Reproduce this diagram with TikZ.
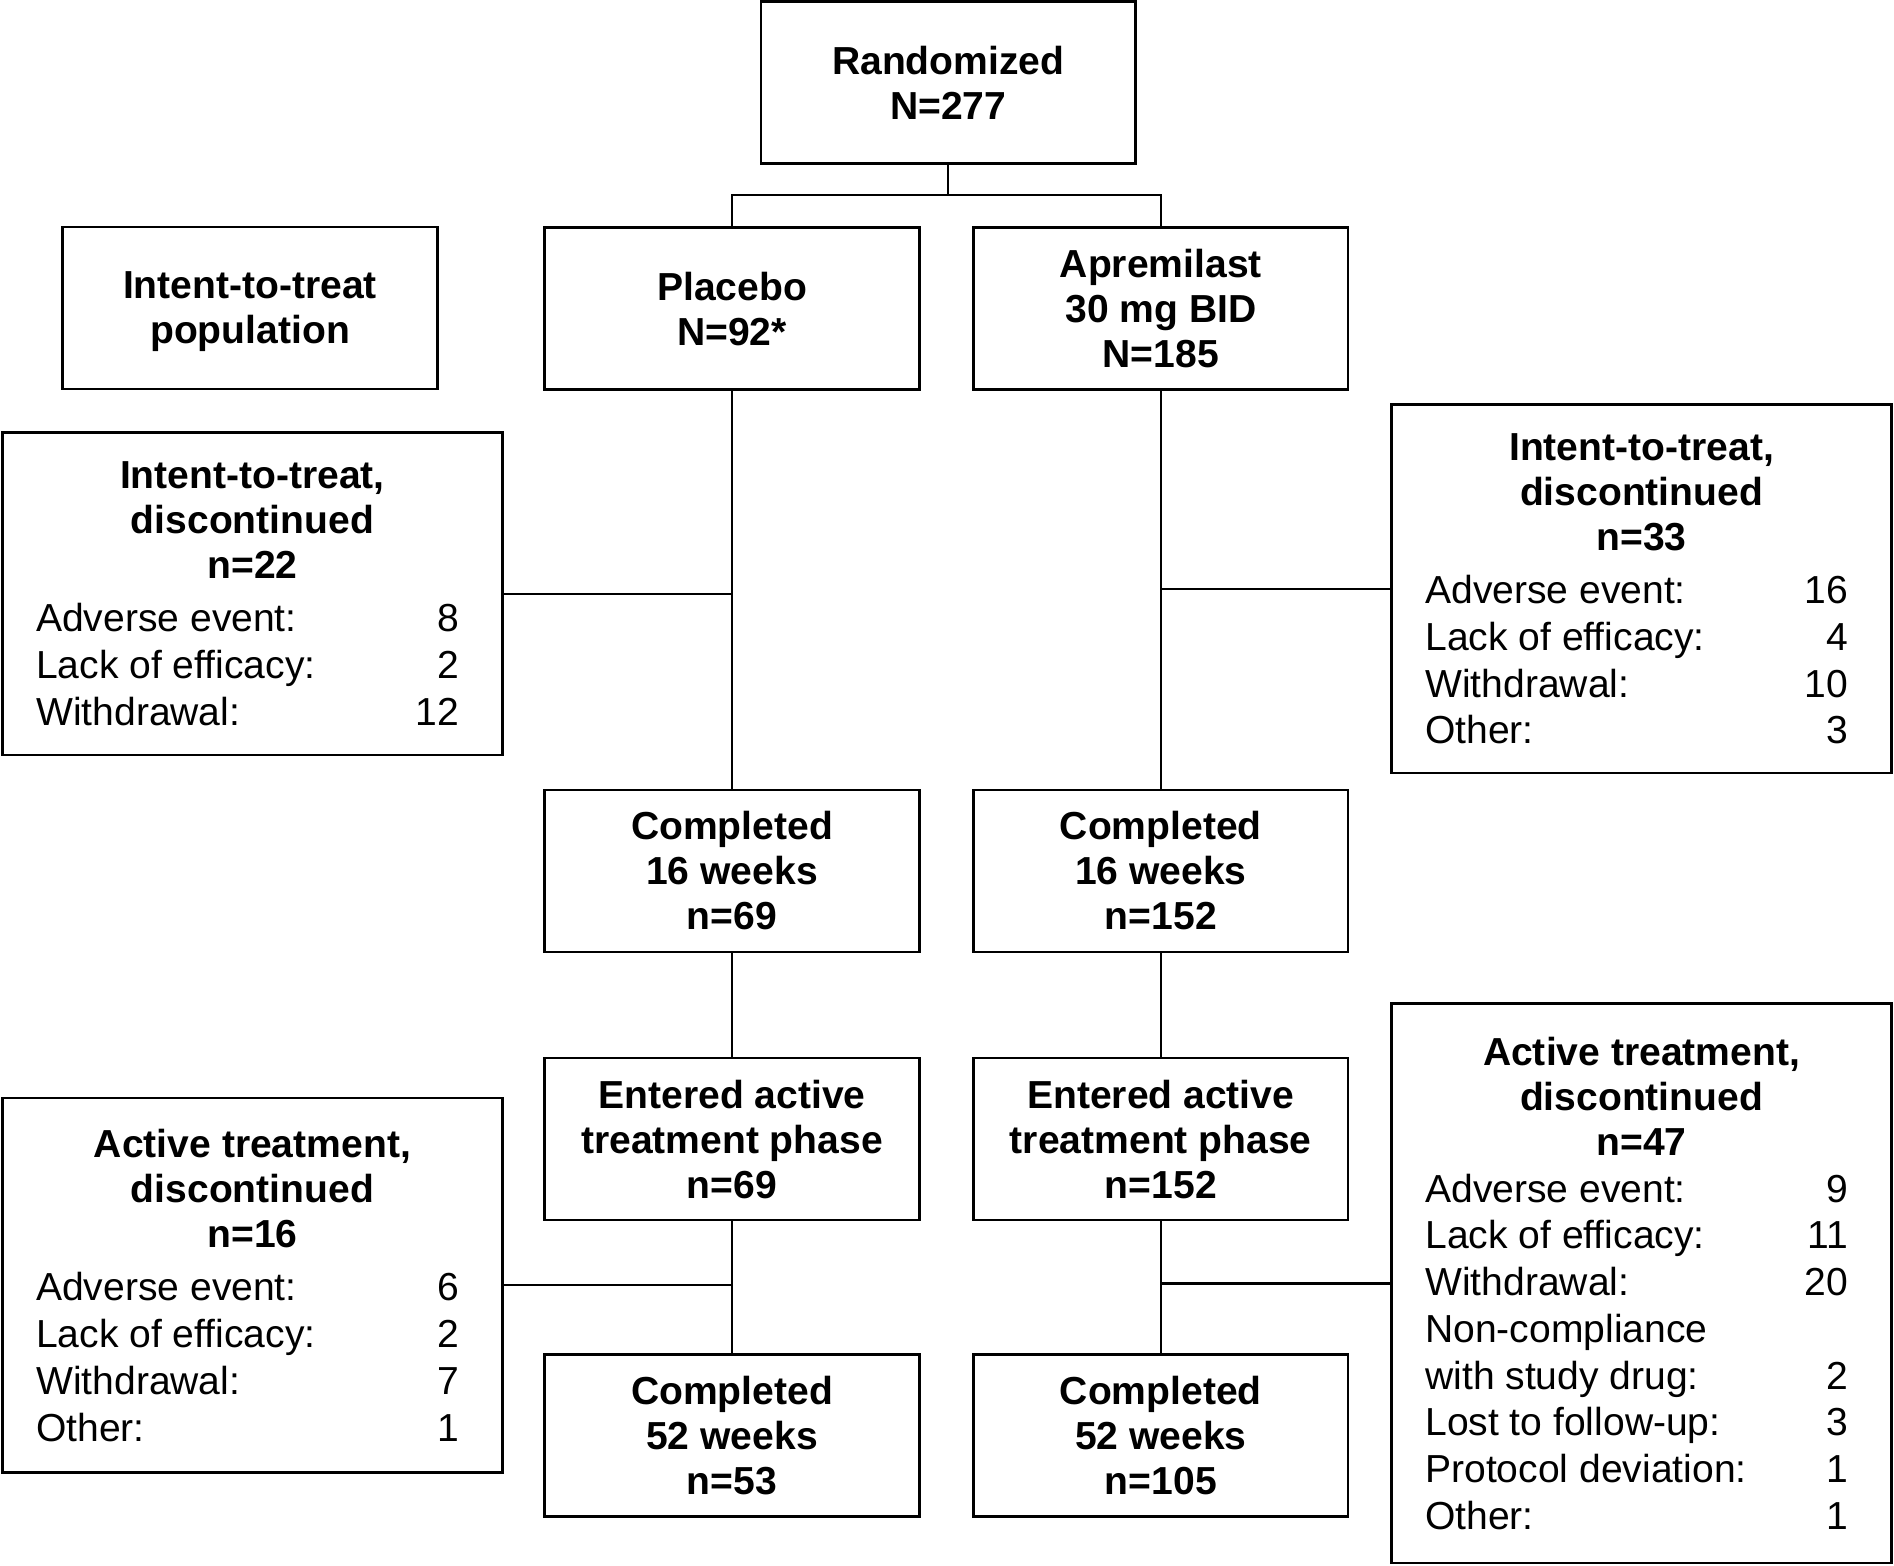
\documentclass[tikz,border=0pt]{standalone}
\usepackage{fontspec}
\setmainfont{Liberation Sans}
\usetikzlibrary{positioning, calc}

\tikzset{
  every picture/.style={line width=1.3pt},
  box/.style={draw, line width=1.6pt, align=center, inner sep=0pt,
    minimum width=7.75cm, minimum height=3.35cm,
    font=\fontsize{23}{26.5}\selectfont\bfseries},
  stopbox/.style={box, minimum width=10.35cm, minimum height=#1,
    font=\fontsize{23}{26.5}\selectfont},
  link/.style={draw, line width=1.3pt},
}
\newcommand{\reasonrow}[2]{\hspace*{-0.2cm}\makebox[8.75cm]{#1\hfill#2}}

\begin{document}
\begin{tikzpicture}[x=0.025cm, y=-0.025cm]
  \fill[white] (0,0) rectangle (1568,1296);
  % arms
  \node[box] (rand) at (785,68.5) {Randomized\\N=277};
  \node[box, text depth=0pt] (itt) at (207,255) {Intent-to-treat\\population};
  \node[box] (plac) at (606,255.5) {Placebo\\N=92*};
  \node[box] (apre) at (961,255.5) {Apremilast\\30 mg BID\\N=185};
  % intent-to-treat phase
  \node[stopbox=6.675cm] (ittL) at (209,491.5) {\textbf{Intent-to-treat,}\\\textbf{discontinued}\\\textbf{n=22}\\[5pt]
    \reasonrow{Adverse event:}{8}\\[1pt]\reasonrow{Lack of efficacy:}{2}\\[1pt]\reasonrow{Withdrawal:}{12}};
  \node[stopbox=7.625cm] (ittR) at (1359,487.5) {\textbf{Intent-to-treat,}\\\textbf{discontinued}\\\textbf{n=33}\\[5pt]
    \reasonrow{Adverse event:}{16}\\[1pt]\reasonrow{Lack of efficacy:}{4}\\[1pt]\reasonrow{Withdrawal:}{10}\\[1pt]\reasonrow{Other:}{3}};
  \node[box] (c16L) at (606,721) {Completed\\16 weeks\\n=69};
  \node[box] (c16R) at (961,721) {Completed\\16 weeks\\n=152};
  % active treatment phase
  \node[box] (entL) at (606,943) {Entered active\\treatment phase\\n=69};
  \node[box] (entR) at (961,943) {Entered active\\treatment phase\\n=152};
  \node[stopbox=7.75cm] (actL) at (209,1064) {\textbf{Active treatment,}\\\textbf{discontinued}\\\textbf{n=16}\\[5pt]
    \reasonrow{Adverse event:}{6}\\[1pt]\reasonrow{Lack of efficacy:}{2}\\[1pt]\reasonrow{Withdrawal:}{7}\\[1pt]\reasonrow{Other:}{1}};
  \node[stopbox=11.575cm] (actR) at (1359,1062.5) {\textbf{Active treatment,}\\\textbf{discontinued}\\\textbf{n=47}\\[1pt]
    \reasonrow{Adverse event:}{9}\\[1pt]\reasonrow{Lack of efficacy:}{11}\\[1pt]\reasonrow{Withdrawal:}{20}\\[1pt]
    \reasonrow{Non-compliance}{}\\[1pt]\reasonrow{with study drug:}{2}\\[1pt]\reasonrow{Lost to follow-up:}{3}\\[1pt]
    \reasonrow{Protocol deviation:}{1}\\[1pt]\reasonrow{Other:}{1}};
  \node[box] (c52L) at (606,1188.5) {Completed\\52 weeks\\n=53};
  \node[box] (c52R) at (961,1188.5) {Completed\\52 weeks\\n=105};
  % connectors
  \coordinate (split) at ($(rand.south)+(0,25)$);
  \draw[link] (rand.south) -- (split);
  \draw[link] (plac.north) |- (split) -| (apre.north);
  \draw[link] (plac.south) -- (c16L.north);
  \draw[link] (apre.south) -- (c16R.north);
  \draw[link] (ittL.east) -- (ittL.east -| plac.south);
  \draw[link] (ittR.west) -- (ittR.west -| apre.south);
  \draw[link] (c16L.south) -- (entL.north);
  \draw[link] (c16R.south) -- (entR.north);
  \draw[link] (entL.south) -- (c52L.north);
  \draw[link] (entR.south) -- (c52R.north);
  \draw[link] (actL.east) -- (actL.east -| entL.south);
  \draw[link] (actR.west) -- (actR.west -| entR.south);
\end{tikzpicture}
\end{document}
